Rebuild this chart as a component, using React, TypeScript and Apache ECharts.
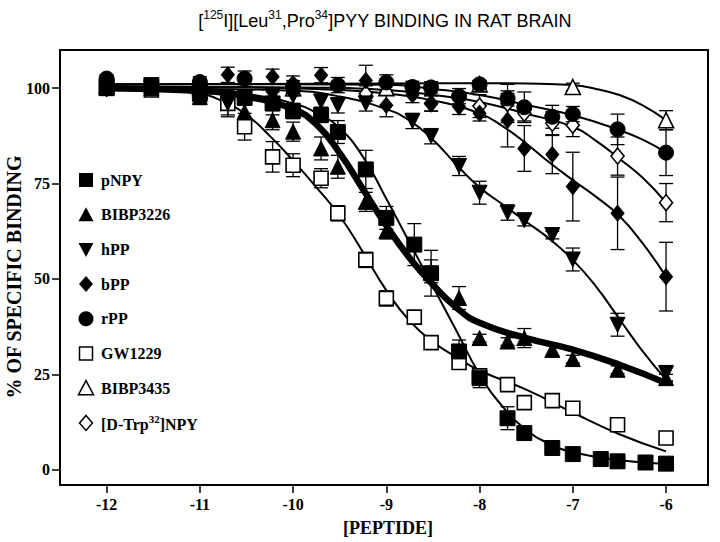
import React, { useEffect, useRef } from "react";
import * as echarts from "echarts";

const xTicks = [-12, -11, -10, -9, -8, -7, -6];
const yTicks = [0, 25, 50, 75, 100];

// ---- measured points (log concentration, % binding, error) ----
const pNPYx = [-12, -11.52, -11, -10.52, -10.22, -10, -9.7, -9.52, -9.22, -9, -8.7, -8.52, -8.22, -8, -7.7, -7.52, -7.22, -7, -6.7, -6.52, -6.22, -6];
const pNPYy = [100.5, 100.8, 99, 97.5, 96, 94, 93, 88.5, 78.7, 66, 59, 51.5, 31, 24, 13.5, 9.6, 5.7, 4.1, 2.8, 2.2, 1.9, 1.6];
const pNPYe = [1, 1, 2, 2, 3, 2, 2, 3, 5, 3, 5.5, 6, 3, 2.5, 3, 1, 0.5, 0.5, 0.5, 0.5, 0.5, 0.5];

const bibp3226x = [-12, -11.52, -11, -10.52, -10.22, -10, -9.7, -9.52, -9.22, -9, -8.52, -8.22, -8, -7.7, -7.52, -7.22, -7, -6.52, -6];
const bibp3226y = [100, 100, 97.7, 93.8, 91.6, 88.6, 84.2, 79.4, 70.2, 62.5, 52, 45, 34.5, 33.6, 34.5, 31.4, 29, 26.2, 24];
const bibp3226e = [1, 1, 2, 2, 2.5, 2.5, 3, 3, 2.5, 2, 3, 3, 1, 1, 2.5, 1.5, 1, 1, 1];

const hPPx = [-12, -11.52, -11, -10.7, -10.22, -10, -9.7, -9.52, -9.22, -8.72, -8.52, -8.22, -8, -7.7, -7.52, -7.22, -7, -6.52, -6];
const hPPy = [100, 100, 98.5, 96, 98, 98, 96.5, 95.5, 96, 91.4, 87.4, 79.6, 72.6, 67.4, 65.4, 61.5, 55.1, 38, 25.3];
const hPPe = [1, 1, 2, 3, 2, 2, 2, 2, 2, 2, 2, 2.5, 3, 2, 1.5, 1, 3, 3, 2];

const bPPx = [-12, -11, -10.7, -10.22, -10, -9.7, -9.22, -9, -8.72, -8.52, -8.22, -8, -7.7, -7.52, -7.22, -7, -6.52, -6];
const bPPy = [100, 101, 103.5, 103, 101.2, 103.4, 102, 95.5, 98.2, 96, 95.1, 93.4, 91.6, 84.2, 82.6, 74.2, 67.2, 50.6];
const bPPe = [1, 2, 2, 2, 2, 2, 4, 3, 2, 2, 2, 2, 7, 6, 5, 9, 9.5, 9];

const rPPx = [-12, -11, -10.52, -10, -9.52, -9, -8.72, -8.52, -8.22, -8, -7.7, -7.52, -7.22, -7, -6.52, -6];
const rPPy = [102.5, 101.6, 102.5, 100.5, 100.8, 101.5, 100.3, 100.2, 97.9, 101, 97.3, 95, 92.5, 93.2, 89.2, 83.1];
const rPPe = [1, 1, 2, 1.5, 2, 2, 1.5, 1.5, 2, 1, 2, 4, 3, 2, 4, 6];

const gwx = [-12, -11.52, -11, -10.7, -10.52, -10.22, -10, -9.7, -9.52, -9.22, -9, -8.7, -8.52, -8.22, -8, -7.7, -7.52, -7.22, -7, -6.52, -6];
const gwy = [100, 99.5, 98.5, 96, 89.9, 82, 79.8, 76.4, 67.2, 55, 44.9, 40, 33.3, 28.1, 24.6, 22.3, 17.6, 18.1, 16.1, 11.8, 8.3];
const gwe = [1, 1, 2, 3.5, 3.5, 4, 3, 2.5, 2, 2, 2, 1, 1, 1.5, 1, 0.5, 0.5, 0.5, 1, 0.5, 0.5];

const bibp3435x = [-12, -11, -10, -9, -8, -7, -6];
const bibp3435y = [100.5, 100.5, 100, 100, 101, 100.3, 91.6];
const bibp3435e = [1, 1, 1, 1, 1, 1, 2.5];

const dtrpx = [-12, -11, -10, -9.22, -8.52, -8, -7.7, -7.52, -7.22, -7, -6.52, -6];
const dtrpy = [100, 100, 99, 98.6, 96, 95.3, 96, 93.4, 90.8, 90.3, 82.2, 70];
const dtrpe = [1, 1, 1, 2, 2, 3, 5, 2, 3, 3, 5, 5];

// ---- fitted curves ----
const pNPYFit = [[-12, 100], [-11, 99.6], [-10.5, 98.5], [-10, 96], [-9.75, 93.5], [-9.5, 89.5], [-9.25, 82], [-9, 71], [-8.75, 59.5], [-8.5, 48], [-8.25, 36.5], [-8, 25], [-7.75, 16.5], [-7.5, 10.5], [-7.25, 6.8], [-7, 4.6], [-6.5, 2.5], [-6, 1.6]];
const bibp3226Fit = [[-12, 100], [-11, 99.3], [-10.5, 97.8], [-10, 94.5], [-9.75, 90.5], [-9.5, 83], [-9.25, 73.5], [-9, 64], [-8.75, 55.5], [-8.5, 48.5], [-8.25, 42.5], [-8, 38.5], [-7.5, 34.5], [-7, 31.5], [-6.5, 27.5], [-6, 22.7]];
const hPPFit = [[-12, 100], [-11, 99.8], [-10, 99.3], [-9.5, 97.8], [-9, 94.5], [-8.75, 91.5], [-8.5, 86.5], [-8.25, 80], [-8, 74], [-7.75, 69.5], [-7.5, 65], [-7.25, 60.5], [-7, 55], [-6.75, 48], [-6.5, 39.5], [-6.25, 31], [-6, 23.6]];
const bPPFit = [[-12, 100.5], [-11, 100.3], [-10, 100], [-9.5, 99.5], [-9, 98.6], [-8.5, 96.8], [-8, 93.4], [-7.75, 90], [-7.5, 85.5], [-7.25, 80.5], [-7, 75.9], [-6.75, 71.5], [-6.5, 66.5], [-6.25, 59.3], [-6, 50.6]];
const rPPFit = [[-12, 101], [-10, 101], [-9, 100.9], [-8.5, 99.8], [-8, 98.2], [-7.5, 95.6], [-7, 92.9], [-6.5, 89], [-6.25, 86.5], [-6, 83.1]];
const gwFit = [[-12, 100], [-11.5, 99.7], [-11, 98.5], [-10.75, 96.5], [-10.5, 93], [-10.25, 87.5], [-10, 81], [-9.75, 74], [-9.5, 66.5], [-9.25, 57], [-9, 47], [-8.75, 39], [-8.5, 33.5], [-8.25, 29.5], [-8, 26], [-7.5, 21], [-7, 15], [-6.5, 9.3], [-6, 4.8]];
const dtrpFit = [[-12, 100.3], [-10, 100.2], [-9, 99.5], [-8.5, 98.2], [-8, 96.4], [-7.5, 93.3], [-7, 89.9], [-6.75, 86.2], [-6.5, 81.5], [-6.25, 76.5], [-6, 70]];
const bibp3435Fit = [[-12, 101], [-9, 101.2], [-8, 101.3], [-7.5, 101.2], [-7, 100.8], [-6.75, 99.8], [-6.5, 98.2], [-6.25, 95.5], [-6, 91.6]];

const legendNames = ["pNPY", "BIBP3226", "hPP", "bPP", "rPP", "GW1229", "BIBP3435", "[D-Trp32]NPY"];

const SERIF = '"Liberation Serif", "DejaVu Serif", serif';
const SANS = '"Liberation Sans", Arial, sans-serif';

function pts(xs: number[], ys: number[]) {
  return xs.map((x, i) => [x, ys[i]]);
}
function errs(xs: number[], ys: number[], es: number[]) {
  return xs.map((x, i) => [x, ys[i] - es[i], ys[i] + es[i]]).filter((d, i) => es[i] >= 0.9);
}

const filled = { color: "#000", borderColor: "#000", borderWidth: 1, opacity: 1 };
const open = { color: "#fff", borderColor: "#000", borderWidth: 1.6, opacity: 1 };

export default function App() {
  const ref = useRef<HTMLDivElement>(null);
  useEffect(() => {
    const chart = echarts.init(ref.current!, null, { renderer: "svg" });

    const errSeries = (xs: number[], ys: number[], es: number[]) => ({
      type: "custom",
      z: 3,
      silent: true,
      data: errs(xs, ys, es),
      encode: { x: 0, y: [1, 2] },
      renderItem: (params: any, api: any) => {
        const x = api.value(0);
        const p1 = api.coord([x, api.value(1)]);
        const p2 = api.coord([x, api.value(2)]);
        const w = 7;
        const st = { stroke: "#000", lineWidth: 1.3 };
        return {
          type: "group",
          children: [
            { type: "line", shape: { x1: p1[0], y1: p1[1], x2: p2[0], y2: p2[1] }, style: st },
            { type: "line", shape: { x1: p1[0] - w, y1: p1[1], x2: p1[0] + w, y2: p1[1] }, style: st },
            { type: "line", shape: { x1: p2[0] - w, y1: p2[1], x2: p2[0] + w, y2: p2[1] }, style: st },
          ],
        };
      },
    });

    const fit = (data: number[][], width: number) => ({
      type: "line",
      data,
      showSymbol: false,
      symbol: "none",
      smooth: 0.5,
      z: 2,
      silent: true,
      lineStyle: { color: "#000", width, opacity: 1 },
    });

    const scatter = (name: string, data: number[][], symbol: string, size: any, style: any, rotate = 0) => ({
      type: "scatter",
      name,
      data,
      symbol,
      symbolSize: size,
      symbolRotate: rotate,
      itemStyle: style,
      z: 4,
      silent: true,
    });

    // legend graphics
    const rowY = (i: number) => 180 + i * 34.7;
    const lx = 86;
    const legendSymbols: any[] = [
      { type: "rect", shape: { x: -7, y: -7, width: 14, height: 14 }, style: { fill: "#000" } },
      { type: "polygon", shape: { points: [[0, -7.5], [7.5, 6.5], [-7.5, 6.5]] }, style: { fill: "#000" } },
      { type: "polygon", shape: { points: [[-7.5, -6.5], [7.5, -6.5], [0, 7.5]] }, style: { fill: "#000" } },
      { type: "polygon", shape: { points: [[0, -8], [7, 0], [0, 8], [-7, 0]] }, style: { fill: "#000" } },
      { type: "circle", shape: { cx: 0, cy: 0, r: 7.5 }, style: { fill: "#000" } },
      { type: "rect", shape: { x: -6.5, y: -6.5, width: 13, height: 13 }, style: { fill: "#fff", stroke: "#000", lineWidth: 1.5 } },
      { type: "polygon", shape: { points: [[0, -7.5], [7.5, 6.5], [-7.5, 6.5]] }, style: { fill: "#fff", stroke: "#000", lineWidth: 1.5 } },
      { type: "polygon", shape: { points: [[0, -7.5], [6.5, 0], [0, 7.5], [-6.5, 0]] }, style: { fill: "#fff", stroke: "#000", lineWidth: 1.5 } },
    ];
    const legendGraphics: any[] = [];
    legendNames.forEach((n, i) => {
      legendGraphics.push({ ...legendSymbols[i], x: lx, y: rowY(i) });
      const isD = n.charAt(0) === "[";
      legendGraphics.push({
        type: "text",
        x: 101,
        y: rowY(i),
        style: isD
          ? {
              text: "{n|[D-Trp}{s|32}{n|]NPY}",
              verticalAlign: "middle",
              fill: "#000",
              rich: {
                n: { fontFamily: SERIF, fontWeight: "bold", fontSize: 16, lineHeight: 19, verticalAlign: "bottom", fill: "#000" },
                s: { fontFamily: SERIF, fontWeight: "bold", fontSize: 11, lineHeight: 11, verticalAlign: "top", fill: "#000" },
              },
            }
          : { text: n, fontFamily: SERIF, fontWeight: "bold", fontSize: 16, fill: "#000", verticalAlign: "middle" },
      });
    });

    const option: any = {
      animation: false,
      backgroundColor: "#fff",
      grid: { left: 60, right: 12, top: 50, bottom: 57, show: true, borderColor: "#000", borderWidth: 2 },
      xAxis: {
        type: "value",
        min: -12.5,
        max: -5.55,
        splitLine: { show: false },
        axisLine: { show: true, onZero: false, lineStyle: { color: "#000", width: 2 } },
        axisTick: { show: true, length: 8, customValues: xTicks, lineStyle: { color: "#000", width: 1.5 } },
        axisLabel: { customValues: xTicks, color: "#000", fontFamily: SERIF, fontWeight: "bold", fontSize: 16, margin: 11 },
      },
      yAxis: {
        type: "value",
        min: -4,
        max: 110,
        splitLine: { show: false },
        axisLine: { show: true, onZero: false, lineStyle: { color: "#000", width: 2 } },
        axisTick: { show: true, length: 8, customValues: yTicks, lineStyle: { color: "#000", width: 1.5 } },
        axisLabel: { customValues: yTicks, color: "#000", fontFamily: SERIF, fontWeight: "bold", fontSize: 16, margin: 10 },
      },
      graphic: [
        {
          type: "text",
          x: 385,
          y: 19,
          style: {
            text: "{n|[}{s|125}{n|I][Leu}{s|31}{n|,Pro}{s|34}{n|]PYY BINDING IN RAT BRAIN}",
            align: "center",
            verticalAlign: "middle",
            fill: "#000",
            rich: {
              n: { fontFamily: SANS, fontSize: 18, lineHeight: 21, verticalAlign: "bottom", fill: "#000" },
              s: { fontFamily: SANS, fontSize: 12, lineHeight: 12, verticalAlign: "top", fill: "#000" },
            },
          },
        },
        {
          type: "text",
          x: 14,
          y: 277,
          rotation: Math.PI / 2,
          style: { text: "% OF SPECIFIC BINDING", align: "center", verticalAlign: "middle", fontFamily: SERIF, fontWeight: "bold", fontSize: 20, fill: "#000" },
        },
        {
          type: "text",
          x: 388,
          y: 528,
          style: { text: "[PEPTIDE]", align: "center", verticalAlign: "middle", fontFamily: SERIF, fontWeight: "bold", fontSize: 18, fill: "#000" },
        },
        ...legendGraphics,
      ],
      series: [
        fit(pNPYFit, 2),
        fit(bibp3226Fit, 6.5),
        fit(hPPFit, 2),
        fit(bPPFit, 2),
        fit(rPPFit, 2),
        fit(gwFit, 2),
        fit(dtrpFit, 2),
        fit(bibp3435Fit, 2),
        errSeries(pNPYx, pNPYy, pNPYe),
        errSeries(bibp3226x, bibp3226y, bibp3226e),
        errSeries(hPPx, hPPy, hPPe),
        errSeries(bPPx, bPPy, bPPe),
        errSeries(rPPx, rPPy, rPPe),
        errSeries(gwx, gwy, gwe),
        errSeries(bibp3435x, bibp3435y, bibp3435e),
        errSeries(dtrpx, dtrpy, dtrpe),
        scatter("GW1229", pts(gwx, gwy), "rect", 14, open),
        scatter("BIBP3435", pts(bibp3435x, bibp3435y), "triangle", 15, open),
        scatter("[D-Trp32]NPY", pts(dtrpx, dtrpy), "diamond", [13, 16], open),
        scatter("bPP", pts(bPPx, bPPy), "diamond", [13, 16], filled),
        scatter("hPP", pts(hPPx, hPPy), "triangle", 15, filled, 180),
        scatter("BIBP3226", pts(bibp3226x, bibp3226y), "triangle", 15, filled),
        scatter("pNPY", pts(pNPYx, pNPYy), "rect", 15, filled),
        scatter("rPP", pts(rPPx, rPPy), "circle", 15, filled),
      ],
    };
    chart.setOption(option);
    return () => chart.dispose();
  }, []);
  return <div ref={ref} style={{ position: "fixed", left: 0, top: 0, width: 720, height: 542, background: "#fff" }} />;
}
